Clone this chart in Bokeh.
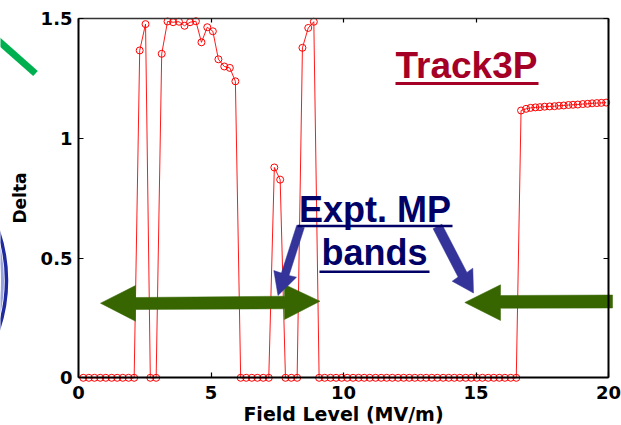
from bokeh.plotting import figure
from bokeh.models import (Range1d, LinearAxis, FixedTicker, NumeralTickFormatter, Label)
from bokeh.embed import file_html
from bokeh.resources import INLINE

# ---------------- data ----------------
field = [0.18, 0.39, 0.60, 0.82, 1.03, 1.25, 1.46, 1.67, 1.89, 2.10,
         2.31, 2.53, 2.71, 2.93,
         3.14, 3.36, 3.57, 3.79, 4.00, 4.21, 4.43, 4.64, 4.86, 5.07, 5.28, 5.50, 5.71, 5.92,
         6.12, 6.33, 6.54, 6.75, 6.97, 7.18,
         7.39, 7.61,
         7.81, 8.03, 8.25,
         8.45, 8.67, 8.88,
         9.08, 9.29, 9.51, 9.72, 9.93, 10.14, 10.36, 10.57, 10.78, 10.99, 11.21, 11.42,
         11.63, 11.84, 12.06, 12.27, 12.48, 12.69, 12.91, 13.12, 13.33, 13.54, 13.76, 13.97,
         14.18, 14.39, 14.61, 14.82, 15.03, 15.24, 15.46, 15.67, 15.88, 16.09, 16.31, 16.52,
         16.70, 16.89, 17.06, 17.24, 17.41, 17.59, 17.78, 17.96, 18.13, 18.31, 18.49, 18.66,
         18.84, 19.03, 19.21, 19.38, 19.56, 19.73, 19.91]
delta = [0, 0, 0, 0, 0, 0, 0, 0, 0, 0,
         1.368, 1.478, 0, 0,
         1.354, 1.489, 1.486, 1.488, 1.471, 1.486, 1.490, 1.402, 1.465, 1.448, 1.331, 1.301, 1.295, 1.239,
         0, 0, 0, 0, 0, 0,
         0.879, 0.828,
         0, 0, 0,
         1.379, 1.462, 1.488,
         0, 0, 0, 0, 0, 0, 0, 0, 0, 0, 0, 0,
         0, 0, 0, 0, 0, 0, 0, 0, 0, 0, 0, 0,
         0, 0, 0, 0, 0, 0, 0, 0, 0, 0, 0, 0,
         1.117, 1.124, 1.128, 1.130, 1.131, 1.133, 1.134, 1.135, 1.137, 1.138, 1.140, 1.141,
         1.142, 1.144, 1.145, 1.147, 1.148, 1.149, 1.150]

x_ticks = [0, 5, 10, 15, 20]
y_ticks = [0, 0.5, 1, 1.5]
x_label = "Field Level (MV/m)"
y_label = "Delta"
title_text = "Track3P"
note_line1 = "Expt. MP"
note_line2 = "bands"

# ---------------- layout helpers (pixel -> data) ----------------
X0, XS = 78.0, 26.5      # pixel of x=0, pixels per unit
Y0, YS = 377.3, 239.3    # pixel of y=0 (from top), pixels per unit
W, H = 621, 425


def px(xp):
    return (xp - X0) / XS


def py(yp):
    return (Y0 - yp) / YS


def pts(seq):
    return [px(a) for a, b in seq], [py(b) for a, b in seq]


p = figure(width=W, height=H, x_range=Range1d(px(0), px(W)), y_range=Range1d(py(H), py(0)),
           x_axis_location=None, y_axis_location=None, toolbar_location=None,
           output_backend="svg", min_border=0, outline_line_color=None,
           background_fill_color="white", border_fill_color="white")
for g in p.grid:
    g.visible = False

AXFONT = "DejaVu Sans"
TXFONT = "Liberation Sans"


def style_axis(ax, labels=True):
    ax.major_tick_out = 0
    ax.major_tick_in = 5
    ax.minor_tick_in = 0
    ax.minor_tick_out = 0
    ax.axis_line_color = "black"
    ax.major_tick_line_color = "black"
    ax.major_tick_line_width = 1.2
    if labels:
        ax.major_label_text_font = AXFONT
        ax.major_label_text_font_style = "bold"
        ax.major_label_text_font_size = "18px"
        ax.major_label_text_color = "black"
        ax.axis_label_text_font = AXFONT
        ax.axis_label_text_font_style = "bold"
        ax.axis_label_text_color = "black"
    else:
        ax.major_label_text_color = None
        ax.major_label_text_font_size = "0px"


xb = LinearAxis(fixed_location=0, ticker=FixedTicker(ticks=x_ticks), axis_label=x_label,
                bounds=(0, 20))
style_axis(xb)
xb.axis_line_width = 2
xb.major_label_standoff = 8
xb.axis_label_text_font_size = "19px"
xb.axis_label_standoff = 1
p.add_layout(xb, "below")

yl = LinearAxis(fixed_location=0, ticker=FixedTicker(ticks=y_ticks), axis_label=y_label,
                formatter=NumeralTickFormatter(format="0.[0]"), bounds=(0, 1.5))
style_axis(yl)
yl.axis_line_width = 2
yl.major_label_standoff = 6
yl.axis_label_text_font_size = "17px"
yl.axis_label_standoff = 8
p.add_layout(yl, "left")

xt = LinearAxis(fixed_location=1.5, ticker=FixedTicker(ticks=x_ticks), bounds=(0, 20))
style_axis(xt, labels=False)
xt.axis_line_width = 1.3
xt.axis_line_color = "#333333"
xt.major_tick_in = 4
p.add_layout(xt, "above")

yr = LinearAxis(fixed_location=20, ticker=FixedTicker(ticks=y_ticks), bounds=(0, 1.5))
style_axis(yr, labels=False)
yr.axis_line_width = 2
p.add_layout(yr, "right")

# ---------------- data series ----------------
p.line(field, delta, line_color="#ff0000", line_width=1, line_alpha=0.9)
p.scatter(field, delta, marker="circle", size=7, line_color="#ff0000", line_width=1,
          fill_color=None)

# ---------------- slide decorations ----------------
# green diagonal stroke at top-left
gx, gy = pts([(-8, 35), (35, 73)])
p.line(gx, gy, line_color="#00b050", line_width=7, line_cap="butt")

# blue ring edge at left
p.ellipse(x=px(-170), y=py(280), width=352 / XS, height=330 / YS,
          fill_color=None, line_color="#1f2a9e", line_width=3.5)
p.ellipse(x=px(-170), y=py(280), width=344 / XS, height=322 / YS,
          fill_color=None, line_color="#7d8bd6", line_width=3, line_alpha=0.8)

GREEN = "#376600"
ax1, ay1 = pts([(100, 302.7), (135, 285), (135, 297), (284, 295.7), (284, 284), (319.5, 300.7),
                (284, 319), (284, 308.3), (135, 309), (135, 320.7)])
p.patch(ax1, ay1, fill_color=GREEN, line_color=GREEN, line_width=0.5)
ax2, ay2 = pts([(464.3, 302), (500, 284.3), (500, 295), (612, 294.5), (612, 307.5),
                (500, 307.7), (500, 320)])
p.patch(ax2, ay2, fill_color=GREEN, line_color=GREEN, line_width=0.5)

BLUE = "#333399"
bx1, by1 = pts([(296.2, 224.8), (280.9, 272.6), (273.3, 270), (277.5, 295), (296, 276.7),
                (288.5, 275), (303.8, 227.2)])
p.patch(bx1, by1, fill_color=BLUE, line_color=BLUE, line_width=0.5)
bx2, by2 = pts([(432.6, 228.3), (457.6, 276.5), (451.7, 280.7), (473, 292.5), (472.3, 267.7),
                (466.4, 271.9), (441.4, 223.7)])
p.patch(bx2, by2, fill_color=BLUE, line_color=BLUE, line_width=0.5)

# texts (Label baseline sits ~12px below the given anchor in this renderer)
RED_TXT = "#a50026"
p.add_layout(Label(x=px(395), y=py(65), text=title_text, text_font=TXFONT,
                   text_font_style="bold", text_font_size="37px", text_color=RED_TXT,
                   text_align="left", text_baseline="alphabetic"))
ux, uy = pts([(395, 83), (538, 83)])
p.line(ux, uy, line_color=RED_TXT, line_width=3)

NAVY = "#000066"
p.add_layout(Label(x=px(374.5), y=py(209), text=note_line1, text_font=TXFONT,
                   text_font_style="bold", text_font_size="36px", text_color=NAVY,
                   text_align="center", text_baseline="alphabetic"))
p.add_layout(Label(x=px(374), y=py(252), text=note_line2, text_font=TXFONT,
                   text_font_style="bold", text_font_size="36px", text_color=NAVY,
                   text_align="center", text_baseline="alphabetic"))
u1x, u1y = pts([(297, 225.5), (452, 225.5)])
p.line(u1x, u1y, line_color=NAVY, line_width=2.5)
u2x, u2y = pts([(319, 271.3), (429, 271.3)])
p.line(u2x, u2y, line_color=NAVY, line_width=2.5)

open("out.html", "w").write(file_html(p, INLINE))
